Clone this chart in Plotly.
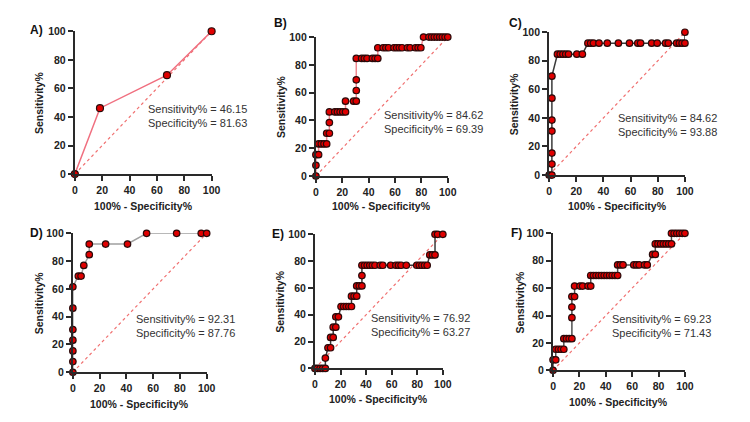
import plotly.graph_objects as go

# ---------------- data ----------------
a_x = [0, 18.37, 67.35, 100]
a_y = [0, 46.15, 69.23, 100]

b_x = [0, 0, 0, 2.04, 2.04, 4.08, 6.12, 8.16, 8.16, 10.2, 10.2, 10.2, 14.29, 16.33, 18.37, 20.41, 22.45,
       22.45, 28.57, 30.61, 30.61, 30.61, 30.61, 34.69, 36.73, 38.78, 42.86, 44.9, 46.94,
       46.94, 51.02, 53.06, 55.1, 59.18, 61.22, 63.27, 65.31, 69.39, 71.43, 75.51, 77.55, 79.59,
       81.63, 85.71, 87.76, 89.8, 91.84, 93.88, 95.92, 97.96, 100]
b_y = [0, 7.69, 15.38, 15.38, 23.08, 23.08, 23.08, 23.08, 30.77, 30.77, 38.46, 46.15, 46.15, 46.15, 46.15, 46.15, 46.15,
       53.85, 53.85, 53.85, 61.54, 69.23, 84.62, 84.62, 84.62, 84.62, 84.62, 84.62, 84.62,
       92.31, 92.31, 92.31, 92.31, 92.31, 92.31, 92.31, 92.31, 92.31, 92.31, 92.31, 92.31, 92.31,
       100, 100, 100, 100, 100, 100, 100, 100, 100]

c_x = [0, 2.04, 2.04, 2.04, 2.04, 2.04, 2.04, 2.04, 6.12, 8.16, 10.2, 12.24, 14.29, 20.41, 24.49,
       28.57, 30.61, 32.65, 36.73, 42.86, 51.02, 59.18, 65.31, 67.35, 75.51, 79.59, 85.71, 87.76,
       93.88, 95.92, 97.96, 100, 100]
c_y = [0, 0, 7.69, 15.38, 30.77, 38.46, 53.85, 69.23, 84.62, 84.62, 84.62, 84.62, 84.62, 84.62, 84.62,
       92.31, 92.31, 92.31, 92.31, 92.31, 92.31, 92.31, 92.31, 92.31, 92.31, 92.31, 92.31, 92.31,
       92.31, 92.31, 92.31, 92.31, 100]

d_x = [0, 0, 0, 0, 0, 0, 0, 4.08, 6.12, 8.16, 12.24, 12.24, 24.49, 40.82, 55.1, 77.55, 95.92, 100]
d_y = [0, 7.69, 15.38, 23.08, 30.77, 46.15, 61.54, 69.23, 69.23, 76.92, 84.62, 92.31, 92.31, 92.31,
       100, 100, 100, 100]

e_x = [0, 2.04, 4.08, 6.12, 8.16, 8.16, 10.2, 12.24, 12.24, 14.29, 14.29, 16.33, 16.33, 18.37,
       20.41, 22.45, 24.49, 26.53, 28.57, 28.57, 30.61, 32.65, 32.65, 34.69, 36.73, 36.73, 36.73,
       38.78, 40.82, 42.86, 44.9, 46.94, 51.02, 53.06, 59.18, 63.27, 65.31, 67.35, 71.43, 79.59,
       81.63, 83.67, 85.71, 87.76, 89.8, 91.84, 93.88, 93.88, 95.92, 100]
e_y = [0, 0, 0, 0, 0, 7.69, 15.38, 15.38, 23.08, 23.08, 30.77, 30.77, 38.46, 38.46,
       46.15, 46.15, 46.15, 46.15, 46.15, 53.85, 53.85, 53.85, 61.54, 61.54, 61.54, 69.23, 76.92,
       76.92, 76.92, 76.92, 76.92, 76.92, 76.92, 76.92, 76.92, 76.92, 76.92, 76.92, 76.92, 76.92,
       76.92, 76.92, 76.92, 76.92, 84.62, 84.62, 84.62, 100, 100, 100]

f_x = [0, 0, 2.04, 2.04, 4.08, 6.12, 8.16, 8.16, 10.2, 12.24, 14.29, 14.29, 14.29, 14.29, 16.33,
       16.33, 20.41, 22.45, 26.53, 28.57, 28.57, 30.61, 32.65, 34.69, 36.73, 38.78, 40.82, 42.86,
       44.9, 46.94, 48.98, 48.98, 51.02, 53.06, 61.22, 63.27, 65.31, 69.39, 71.43, 75.51, 77.55,
       77.55, 79.59, 81.63, 83.67, 85.71, 87.76, 89.8, 89.8, 91.84, 93.88, 95.92, 97.96, 100]
f_y = [0, 7.69, 7.69, 15.38, 15.38, 15.38, 15.38, 23.08, 23.08, 23.08, 23.08, 38.46, 46.15, 53.85, 53.85,
       61.54, 61.54, 61.54, 61.54, 61.54, 69.23, 69.23, 69.23, 69.23, 69.23, 69.23, 69.23, 69.23,
       69.23, 69.23, 69.23, 76.92, 76.92, 76.92, 76.92, 76.92, 76.92, 76.92, 76.92, 84.62, 84.62,
       92.31, 92.31, 92.31, 92.31, 92.31, 92.31, 92.31, 100, 100, 100, 100, 100, 100]

panel_labels = ["A)", "B)", "C)", "D)", "E)", "F)"]
sens_vals = ["46.15", "84.62", "84.62", "92.31", "76.92", "69.23"]
spec_vals = ["81.63", "69.39", "93.88", "87.76", "63.27", "71.43"]
tick_vals = [0, 20, 40, 60, 80, 100]
diag = [0, 100]

series = [(a_x, a_y), (b_x, b_y), (c_x, c_y), (d_x, d_y), (e_x, e_y), (f_x, f_y)]
line_colors = ["#f07080", "#f08890", "#3a3a3a", "#a0a0a0", "#3a3a3a", "#505050"]
marker_sizes = [7, 6.5, 6.5, 6.5, 6.5, 6.5]

# layout geometry (pixels in a 750x422 canvas)
W, H = 750, 422
boxes = [  # x0, x1, ytop, ybottom
    (73, 212, 26, 173),
    (318, 452, 32, 175),
    (555, 693, 27, 174),
    (71, 207, 234, 377),
    (317, 447, 235, 373),
    (559, 693, 234, 375),
]
text_pos = [(52, 41), (50, 39), (49, 35), (45.5, 33), (42, 32), (43, 32)]
label_pos = [(25, 25), (273, 18), (512, 17), (25, 234), (271, 235), (514, 234)]
ytitle_x = [36, 282, 519, 36, 282, 525]
xtitle_y = [206, 206, 206, 410, 404, 408]

fig = go.Figure()
axis_col = "#2a2a2a"
font_fam = "Liberation Sans, Arial, sans-serif"

for i, ((xs, ys), box) in enumerate(zip(series, boxes)):
    n = i + 1
    xa = "x" if n == 1 else f"x{n}"
    ya = "y" if n == 1 else f"y{n}"
    fig.add_trace(go.Scatter(x=diag, y=diag, mode="lines", xaxis=xa, yaxis=ya,
                             line=dict(color="#f07070", width=1.2, dash="dot"),
                             showlegend=False, hoverinfo="skip"))
    fig.add_trace(go.Scatter(x=xs, y=ys, mode="lines+markers", xaxis=xa, yaxis=ya,
                             line=dict(color=line_colors[i], width=1.5),
                             marker=dict(size=marker_sizes[i], color="#e00000",
                                         line=dict(color="#2a0a0a", width=1.2)),
                             cliponaxis=False, showlegend=False))
    x0, x1, yt, yb = box
    axcommon = dict(range=[0, 100], tickvals=tick_vals, ticks="outside", ticklen=5,
                    tickwidth=1.5, tickcolor=axis_col, showline=True, linecolor=axis_col,
                    linewidth=2, showgrid=False, zeroline=False,
                    tickfont=dict(family=font_fam, size=10.5, color="#222", weight="bold"))
    fig.layout[f"xaxis{'' if n == 1 else n}"] = dict(
        domain=[x0 / W, x1 / W], anchor=ya, **axcommon)
    fig.layout[f"yaxis{'' if n == 1 else n}"] = dict(
        domain=[1 - yb / H, 1 - yt / H], anchor=xa, **axcommon)
    tx, ty = text_pos[i]
    fig.add_annotation(x=tx, y=ty, xref=xa, yref=ya, xanchor="left", yanchor="middle",
                       showarrow=False, align="left",
                       text=f"Sensitivity% = {sens_vals[i]}<br>Specificity% = {spec_vals[i]}",
                       font=dict(family=font_fam, size=11, color="#333"))
    lx, ly = label_pos[i]
    fig.add_annotation(x=lx / W, y=1 - ly / H, xref="paper", yref="paper",
                       xanchor="left", yanchor="middle", showarrow=False,
                       text=panel_labels[i],
                       font=dict(family=font_fam, size=12, color="#111", weight="bold"))
    fig.add_annotation(x=ytitle_x[i] / W, y=1 - (yt + yb) / 2 / H, xref="paper", yref="paper",
                       xanchor="center", yanchor="middle",
                       textangle=-90, showarrow=False, text="Sensitivity%",
                       font=dict(family=font_fam, size=10.5, color="#222", weight="bold"))
    fig.add_annotation(x=(x0 + x1) / 2 / W, y=1 - xtitle_y[i] / H, xref="paper", yref="paper",
                       xanchor="center", yanchor="middle",
                       showarrow=False, text="100% - Specificity%",
                       font=dict(family=font_fam, size=10.5, color="#222", weight="bold"))

fig.update_layout(width=W, height=H, margin=dict(l=0, r=0, t=0, b=0),
                  paper_bgcolor="white", plot_bgcolor="white")
fig.write_html("out.html")
